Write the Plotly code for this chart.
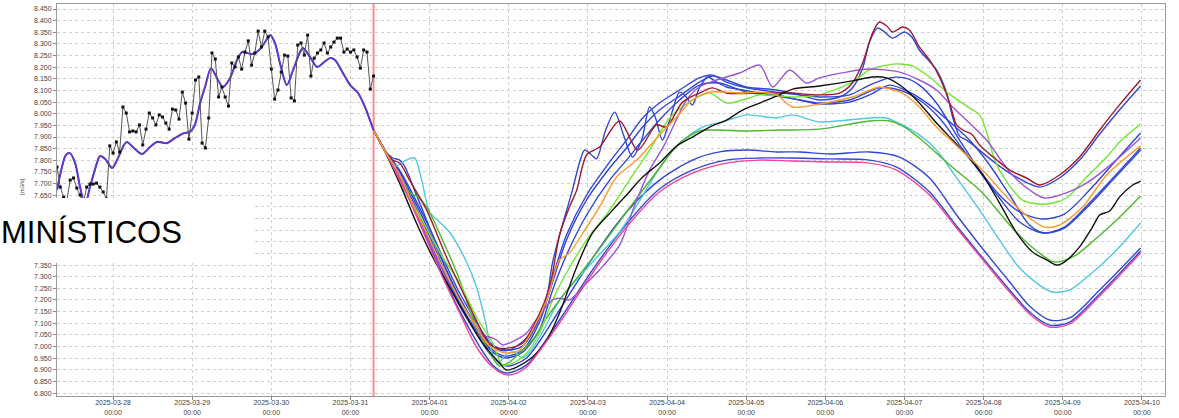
import plotly.graph_objects as go
import pandas as pd

# ---------------- data ----------------
OBS_START = "2025-03-27 07:00"
FC_START = "2025-03-31 07:00"

obs_v = [7.771, 7.685, 7.642, 7.629, 7.715, 7.724, 7.681, 7.651, 7.617, 7.685, 7.698, 7.698, 7.702, 7.685,
         7.664, 7.634, 7.862, 7.831, 7.879, 7.836, 8.029, 8.003, 7.922, 7.926, 7.922, 7.952, 7.866, 7.934,
         8.003, 7.982, 7.952, 7.995, 7.986, 7.960, 7.934, 8.020, 8.016, 7.977, 8.093, 8.046, 7.891, 8.003,
         8.145, 8.158, 7.874, 7.853, 7.982, 8.261, 8.235, 8.072, 8.115, 8.072, 8.033, 8.218, 8.201, 8.244,
         8.192, 8.265, 8.313, 8.209, 8.261, 8.355, 8.287, 8.355, 8.330, 8.192, 8.063, 8.102, 8.179, 8.252,
         8.248, 8.068, 8.055, 8.295, 8.304, 8.252, 8.338, 8.162, 8.239, 8.261, 8.274, 8.304, 8.261, 8.287,
         8.308, 8.325, 8.325, 8.265, 8.278, 8.265, 8.274, 8.244, 8.196, 8.274, 8.265, 8.106, 8.162]
obs_h = list(range(len(obs_v)))

sim_h = [0, 1.5, 2.7, 3.9, 5.5, 7.0, 8.5, 10.0, 12.1, 13.0, 14.6, 16.7, 18.2, 20.3, 21.2, 23.3, 25.8, 28.2,
         30.3, 33.4, 35.8, 38.5, 40.3, 41.8, 43.4, 44.9, 46.7, 48.5, 50.3, 52.5, 54.6, 56.1, 57.6, 59.4, 61.6,
         63.7, 64.6, 66.1, 67.6, 69.7, 71.6, 73.7, 74.6, 76.7, 78.9, 80.7, 82.8, 84.3, 86.7, 88.9, 91.3, 93.4,
         94.9, 96.0]
sim_v = [7.672, 7.771, 7.823, 7.831, 7.788, 7.685, 7.608, 7.685, 7.788, 7.818, 7.806, 7.767, 7.801, 7.866,
         7.879, 7.853, 7.827, 7.857, 7.879, 7.874, 7.896, 7.917, 7.922, 7.952, 8.046, 8.115, 8.196, 8.154,
         8.115, 8.154, 8.231, 8.265, 8.261, 8.257, 8.278, 8.321, 8.338, 8.304, 8.218, 8.123, 8.188, 8.265,
         8.282, 8.244, 8.201, 8.218, 8.239, 8.231, 8.175, 8.123, 8.089, 8.029, 7.973, 7.930]

pink_h = [0, 3.3, 7.9, 10.9, 16.1, 20.9, 26.1, 31.2, 36.1, 40.3, 43.4, 46.4, 51.2, 56.4, 66.4, 76.7, 86.7, 96.7,
          107.0, 117.1, 127.1, 138.3, 150.4, 158.6, 168.6, 176.8, 183.8, 192.9, 198.9, 205.0, 211.1, 220.2, 232.6]
pink_v = [7.930, 7.844, 7.715, 7.629, 7.458, 7.299, 7.144, 6.998, 6.912, 6.878, 6.886, 6.912, 6.998, 7.101,
          7.316, 7.513, 7.664, 7.745, 7.788, 7.801, 7.797, 7.793, 7.788, 7.758, 7.651, 7.509, 7.389, 7.234,
          7.140, 7.084, 7.097, 7.217, 7.402]

b7_h = [0, 3.3, 7.9, 16.1, 26.1, 36.1, 40.3, 46.4, 56.4, 66.4, 76.7, 86.7, 96.7, 107.0, 117.1, 127.1, 138.3,
        150.4, 158.6, 168.6, 176.8, 183.8, 192.9, 198.9, 205.0, 211.1, 220.2, 232.6]
b7_v = [7.930, 7.849, 7.724, 7.466, 7.153, 6.921, 6.886, 6.921, 7.114, 7.329, 7.526, 7.677, 7.758, 7.801,
        7.810, 7.810, 7.806, 7.801, 7.771, 7.664, 7.518, 7.397, 7.243, 7.148, 7.092, 7.105, 7.226, 7.410]

b6_h = [0, 3.3, 7.9, 16.1, 26.1, 36.1, 40.3, 46.4, 56.4, 66.4, 76.7, 86.7, 96.7, 104.9, 113.1, 122.2, 129.2,
        138.3, 150.4, 159.5, 168.6, 176.8, 183.8, 192.9, 198.9, 205.0, 211.1, 220.2, 232.6]
b6_v = [7.930, 7.844, 7.724, 7.483, 7.178, 6.955, 6.916, 6.951, 7.157, 7.380, 7.578, 7.715, 7.801, 7.836,
        7.844, 7.836, 7.836, 7.827, 7.836, 7.814, 7.724, 7.565, 7.436, 7.277, 7.174, 7.114, 7.123, 7.243, 7.423]

cyan_h = [0, 3.3, 6.7, 9.4, 12.4, 14.6, 17.0, 20.0, 23.0, 28.2, 31.2, 33.7, 36.1, 37.6, 40.3, 42.8, 45.2, 47.9,
          51.9, 56.4, 66.4, 74.6, 81.6, 86.7, 92.8, 99.8, 105.8, 113.1, 122.2, 127.1, 135.2, 150.4, 155.5,
          160.4, 165.5, 170.7, 176.2, 183.8, 189.8, 195.9, 201.9, 205.9, 211.1, 217.1, 224.7, 232.6]
cyan_v = [7.930, 7.849, 7.775, 7.797, 7.810, 7.715, 7.578, 7.535, 7.492, 7.363, 7.256, 7.122, 6.964, 6.925,
          6.968, 6.976, 6.951, 6.985, 7.080, 7.200, 7.363, 7.492, 7.647, 7.767, 7.874, 7.943, 7.965, 7.995,
          7.982, 7.995, 7.965, 7.982, 7.982, 7.952, 7.909, 7.844, 7.737, 7.586, 7.458, 7.337, 7.264, 7.234,
          7.243, 7.307, 7.406, 7.531]

green_h = [0, 3.3, 7.9, 10.9, 13.0, 16.1, 20.9, 26.1, 29.1, 32.1, 36.1, 38.2, 41.2, 44.3, 48.2, 52.5, 56.4,
           66.4, 76.7, 86.7, 92.8, 98.8, 102.8, 113.1, 123.1, 135.2, 150.4, 156.5, 161.0, 165.5, 174.7, 184.4,
           192.9, 198.9, 206.5, 212.6, 218.6, 224.7, 232.6]
green_v = [7.930, 7.844, 7.724, 7.660, 7.647, 7.599, 7.458, 7.286, 7.157, 7.058, 6.951, 6.916, 6.933, 6.972,
           7.028, 7.123, 7.200, 7.380, 7.578, 7.767, 7.874, 7.926, 7.930, 7.926, 7.930, 7.934, 7.969, 7.969,
           7.943, 7.896, 7.780, 7.664, 7.522, 7.436, 7.363, 7.389, 7.458, 7.535, 7.647]

black_h = [0, 3.3, 5.8, 8.8, 13.0, 17.9, 23.0, 28.2, 33.1, 38.2, 40.3, 43.4, 48.2, 52.5, 56.4, 61.6, 66.4, 72.5,
           76.7, 81.6, 86.7, 91.9, 96.7, 101.9, 107.0, 111.9, 117.1, 122.2, 127.1, 135.2, 145.2, 151.3, 155.5,
           160.4, 165.5, 170.7, 175.6, 179.8, 184.4, 189.8, 195.0, 199.8, 204.1, 207.1, 209.5, 214.1, 218.0,
           220.2, 223.2, 226.2, 230.2, 232.6]
black_v = [7.930, 7.844, 7.767, 7.672, 7.531, 7.385, 7.256, 7.127, 7.015, 6.929, 6.899, 6.912, 6.955, 7.028,
           7.144, 7.342, 7.488, 7.586, 7.651, 7.728, 7.788, 7.861, 7.900, 7.943, 7.973, 8.016, 8.046, 8.076,
           8.106, 8.119, 8.141, 8.158, 8.154, 8.115, 8.046, 7.960, 7.887, 7.823, 7.745, 7.617, 7.488, 7.406,
           7.372, 7.350, 7.363, 7.428, 7.513, 7.565, 7.582, 7.642, 7.694, 7.711]

orange_h = [0, 3.3, 7.9, 10.9, 16.1, 20.9, 26.1, 31.2, 34.3, 36.1, 40.3, 44.3, 48.2, 52.5, 56.4, 59.4, 64.6,
            68.5, 73.7, 79.8, 86.7, 91.9, 96.7, 101.9, 107.0, 111.9, 117.1, 122.2, 127.1, 135.2, 145.2, 153.4,
            157.4, 160.4, 165.5, 170.7, 175.6, 179.8, 184.7, 192.9, 199.8, 203.5, 208.0, 215.0, 222.3, 232.6]
orange_v = [7.930, 7.844, 7.737, 7.642, 7.488, 7.342, 7.200, 7.084, 7.015, 6.994, 6.972, 6.985, 7.071, 7.200,
            7.372, 7.402, 7.513, 7.599, 7.728, 7.801, 7.909, 7.986, 8.059, 8.093, 8.093, 8.089, 8.093, 8.081,
            8.029, 8.042, 8.072, 8.115, 8.102, 8.089, 8.029, 7.943, 7.879, 7.823, 7.758, 7.629, 7.543, 7.513,
            7.522, 7.599, 7.737, 7.862]

lime_h = [0, 3.3, 8.8, 13.9, 20.9, 26.1, 31.2, 36.1, 39.1, 42.2, 46.4, 50.3, 54.3, 58.5, 64.6, 71.6, 77.6,
          83.7, 89.8, 96.7, 101.9, 107.0, 111.9, 117.1, 127.1, 135.2, 145.2, 150.4, 155.6, 159.5, 163.5, 168.6,
          173.8, 180.7, 183.8, 185.9, 187.7, 189.8, 196.8, 204.1, 210.1, 216.2, 222.3, 226.8, 232.6]
lime_v = [7.930, 7.844, 7.685, 7.565, 7.385, 7.273, 7.127, 7.015, 6.921, 6.929, 6.972, 7.058, 7.200, 7.316,
          7.458, 7.586, 7.715, 7.844, 7.982, 8.059, 8.089, 8.046, 8.059, 8.081, 8.072, 8.081, 8.136, 8.188,
          8.209, 8.214, 8.205, 8.158, 8.093, 8.025, 7.995, 7.922, 7.831, 7.758, 7.629, 7.612, 7.638, 7.728,
          7.814, 7.887, 7.956]

purple_h = [0, 3.3, 7.9, 16.1, 26.1, 32.1, 35.2, 37.3, 39.1, 41.2, 44.3, 46.4, 50.3, 54.3, 56.4, 59.4, 64.0,
            68.5, 74.6, 79.2, 83.7, 88.2, 94.9, 98.8, 104.0, 111.0, 117.1, 121.0, 126.2, 131.3, 135.2, 143.4,
            150.4, 159.5, 165.5, 170.7, 175.6, 180.7, 185.9, 189.8, 193.7, 199.8, 203.5, 210.1, 216.2, 224.1,
            232.6]
purple_v = [7.930, 7.844, 7.724, 7.475, 7.174, 7.049, 7.041, 7.028, 7.007, 7.015, 7.037, 7.058, 7.135, 7.200,
            7.208, 7.200, 7.264, 7.329, 7.436, 7.608, 7.758, 7.866, 8.059, 8.115, 8.145, 8.175, 8.209, 8.115,
            8.188, 8.132, 8.154, 8.179, 8.192, 8.179, 8.145, 8.102, 8.029, 7.960, 7.887, 7.810, 7.737, 7.664,
            7.638, 7.660, 7.702, 7.788, 7.896]

red_h = [0, 3.3, 5.8, 7.9, 10.9, 16.1, 22.1, 28.2, 33.1, 36.1, 41.2, 45.2, 49.4, 53.4, 56.4, 59.4, 61.6, 64.6,
         68.5, 74.6, 80.1, 85.8, 88.8, 93.7, 98.8, 102.8, 107.0, 117.1, 126.2, 135.2, 141.3, 145.2, 148.3,
         151.3, 153.4, 155.6, 157.4, 160.4, 162.5, 165.5, 168.6, 171.6, 174.7, 176.8, 179.2, 181.3, 183.8,
         189.0, 192.9, 198.0, 202.0, 208.0, 214.1, 220.2, 226.2, 232.6]
red_v = [7.930, 7.844, 7.801, 7.788, 7.715, 7.586, 7.385, 7.200, 7.058, 6.998, 6.994, 7.015, 7.114, 7.256,
         7.479, 7.599, 7.672, 7.823, 7.857, 7.969, 7.844, 7.952, 7.943, 8.050, 8.089, 8.111, 8.089, 8.089,
         8.089, 8.081, 8.089, 8.132, 8.218, 8.347, 8.394, 8.377, 8.351, 8.373, 8.360, 8.287, 8.231, 8.158,
         8.046, 7.952, 7.926, 7.913, 7.866, 7.801, 7.758, 7.724, 7.694, 7.737, 7.814, 7.930, 8.038, 8.145]

b1_h = [0, 3.3, 7.9, 16.1, 26.1, 36.1, 40.3, 45.2, 50.3, 54.3, 58.5, 64.6, 71.6, 76.7, 81.6, 86.7, 92.8, 98.8,
        102.8, 107.0, 113.1, 122.2, 129.2, 135.2, 141.3, 145.2, 148.3, 150.4, 152.8, 155.0, 157.4, 161.0,
        163.2, 165.5, 170.7, 173.8, 175.6, 177.7, 179.8, 182.3, 185.9, 189.8, 194.4, 202.0, 208.0, 214.1,
        220.2, 226.2, 232.6]
b1_v = [7.930, 7.844, 7.750, 7.518, 7.208, 6.985, 6.959, 6.985, 7.105, 7.277, 7.458, 7.630, 7.767, 7.853,
        7.943, 8.016, 8.076, 8.136, 8.162, 8.145, 8.115, 8.102, 8.081, 8.059, 8.072, 8.111, 8.196, 8.308,
        8.368, 8.351, 8.325, 8.351, 8.330, 8.274, 8.188, 8.089, 7.986, 7.904, 7.887, 7.861, 7.818, 7.775,
        7.732, 7.685, 7.724, 7.801, 7.913, 8.016, 8.119]

b2_h = [0, 3.3, 5.8, 7.9, 9.4, 12.4, 16.1, 22.1, 28.2, 34.3, 38.2, 41.2, 45.8, 48.8, 52.5, 54.3, 56.4, 60.3,
        62.5, 64.0, 66.1, 67.6, 70.4, 73.1, 75.8, 78.5, 81.3, 83.7, 85.5, 87.6, 89.8, 92.8, 94.6, 96.7, 98.8,
        101.3, 104.0, 107.0, 111.9, 117.1, 122.2, 129.2, 135.2, 144.3, 150.4, 156.5, 162.5, 168.6, 174.7,
        180.7, 186.8, 192.9, 198.9, 203.5, 209.5, 217.1, 224.7, 232.6]
b2_v = [7.930, 7.844, 7.810, 7.801, 7.775, 7.672, 7.543, 7.329, 7.157, 7.028, 6.985, 6.985, 7.028, 7.080,
        7.213, 7.363, 7.479, 7.672, 7.793, 7.844, 7.823, 7.806, 7.930, 8.007, 7.909, 7.814, 7.887, 8.029,
        7.982, 7.887, 7.973, 8.093, 8.076, 8.038, 8.111, 8.158, 8.136, 8.115, 8.102, 8.089, 8.081, 8.059,
        8.042, 8.050, 8.081, 8.123, 8.093, 8.038, 7.965, 7.887, 7.780, 7.651, 7.522, 7.488, 7.509, 7.608,
        7.724, 7.844]

b3_h = [0, 3.3, 7.9, 16.1, 26.1, 36.1, 40.3, 45.2, 50.3, 54.3, 58.5, 64.6, 71.6, 76.7, 81.6, 86.7, 92.8, 98.8,
        102.8, 107.0, 113.1, 122.2, 129.2, 135.2, 144.3, 150.4, 156.5, 161.0, 165.5, 170.7, 177.7, 183.8,
        189.8, 195.9, 202.9, 209.5, 217.1, 224.7, 232.6]
b3_v = [7.930, 7.844, 7.758, 7.535, 7.230, 7.007, 6.985, 7.002, 7.123, 7.299, 7.479, 7.651, 7.793, 7.887,
        7.982, 8.046, 8.102, 8.154, 8.166, 8.136, 8.111, 8.093, 8.081, 8.072, 8.081, 8.123, 8.154, 8.154,
        8.123, 8.046, 7.887, 7.758, 7.651, 7.578, 7.548, 7.569, 7.672, 7.793, 7.917]

b4_h = [0, 3.3, 7.9, 16.1, 26.1, 36.1, 40.3, 45.2, 50.3, 54.3, 58.5, 64.6, 71.6, 76.7, 81.6, 86.7, 92.8, 98.8,
        104.9, 113.1, 122.2, 129.2, 135.2, 144.3, 153.4, 159.5, 165.5, 171.6, 177.7, 183.8, 189.8, 195.9,
        202.9, 209.5, 217.1, 224.7, 232.6]
b4_v = [7.930, 7.844, 7.737, 7.501, 7.187, 6.976, 6.951, 6.976, 7.071, 7.243, 7.393, 7.565, 7.715, 7.801,
        7.887, 7.973, 8.059, 8.123, 8.132, 8.093, 8.076, 8.059, 8.046, 8.059, 8.111, 8.102, 8.059, 7.982,
        7.866, 7.750, 7.638, 7.535, 7.488, 7.513, 7.617, 7.732, 7.853]

# y tick values (labels hidden behind the white box are left blank)
y_ticks = [round(6.80 + 0.05 * i, 2) for i in range(34)]
y_hidden = [7.40, 7.45, 7.50, 7.55, 7.60]
y_text = ["" if t in y_hidden else f"{t:.3f}" for t in y_ticks]

# ---------------- styling ----------------
BLUE = "#3346d1"
members = [
    (b6_h, b6_v, BLUE), (b4_h, b4_v, BLUE), (b3_h, b3_v, BLUE), (b2_h, b2_v, BLUE), (b1_h, b1_v, BLUE),
    (b7_h, b7_v, BLUE), (cyan_h, cyan_v, "#4fc8e0"), (green_h, green_v, "#4cb82e"),
    (lime_h, lime_v, "#72e632"), (purple_h, purple_v, "#9a55d8"), (red_h, red_v, "#9e1a2e"),
    (black_h, black_v, "#111111"), (pink_h, pink_v, "#f0439a"), (orange_h, orange_v, "#ff9a2a"),
]


def times(base, hours):
    b = pd.Timestamp(base)
    return [b + pd.Timedelta(hours=h) for h in hours]


fig = go.Figure()

for h, v, c in members:
    fig.add_trace(go.Scatter(x=times(FC_START, h), y=v, mode="lines",
                             line=dict(color=c, width=1.4, shape="spline", smoothing=0.8),
                             hoverinfo="skip", showlegend=False))

fig.add_trace(go.Scatter(x=times(OBS_START, sim_h), y=sim_v, mode="lines",
                         line=dict(color="#2a3ad8", width=2.0, shape="spline", smoothing=0.8),
                         hoverinfo="skip", showlegend=False))
fig.add_trace(go.Scatter(x=times(OBS_START, sim_h), y=sim_v, mode="lines",
                         line=dict(color="#7a35c0", width=1.3, shape="spline", smoothing=0.8),
                         hoverinfo="skip", showlegend=False))
fig.add_trace(go.Scatter(x=times(OBS_START, obs_h), y=obs_v, mode="lines+markers",
                         line=dict(color="#555555", width=1),
                         marker=dict(color="#111111", size=3, symbol="square"),
                         hoverinfo="skip", showlegend=False))

W, H = 1179, 418
ML, MR, MT, MB = 57, 14, 4, 22
pw, ph = W - ML - MR, H - MT - MB

fig.add_shape(type="line", xref="x", yref="paper", x0=pd.Timestamp(FC_START), x1=pd.Timestamp(FC_START),
              y0=0, y1=1, line=dict(color="#ff8a8a", width=2), layer="below")


def px_x(p):
    return (p - ML) / pw


def px_y(p):
    return (H - MB - p) / ph


# white masking box with partially visible label
fig.add_shape(type="rect", xref="paper", yref="paper", x0=px_x(-2), x1=px_x(253), y0=px_y(263), y1=px_y(198),
              fillcolor="white", line=dict(width=0), layer="above")
fig.add_annotation(text="MINÍSTICOS", xref="paper", yref="paper", x=px_x(-1), y=px_y(233),
                   xanchor="left", yanchor="middle", showarrow=False,
                   font=dict(family="Liberation Sans, Arial", size=31, color="#000000"))
fig.add_annotation(text="[m3/s]", xref="paper", yref="paper", x=px_x(22), y=px_y(187), textangle=-90,
                   xanchor="center", yanchor="middle", showarrow=False,
                   font=dict(family="Liberation Sans, Arial", size=6, color="#444444"))

fig.update_layout(
    width=W, height=H, margin=dict(l=ML, r=MR, t=MT, b=MB, autoexpand=False),
    paper_bgcolor="white", plot_bgcolor="white",
    font=dict(family="Liberation Sans, Arial", size=7, color="#444444"),
    xaxis=dict(range=["2025-03-27 07:00", "2025-04-10 07:00"], type="date", automargin=False,
               tick0="2025-03-28", dtick=86400000, tickformat="%Y-%m-%d<br>%H:%M",
               showgrid=True, gridcolor="#cfcfcf", griddash="dot", gridwidth=1,
               showline=True, linecolor="#9a9a9a", linewidth=1, mirror=True,
               ticks="outside", ticklen=3, tickcolor="#888888", zeroline=False,
               tickfont=dict(size=7, color="#444444"), ticklabelstandoff=-3),
    yaxis=dict(range=[6.7875, 8.4715], tickmode="array", tickvals=y_ticks, ticktext=y_text, automargin=False,
               showgrid=True, gridcolor="#cfcfcf", griddash="dot", gridwidth=1,
               showline=True, linecolor="#9a9a9a", linewidth=1, mirror=True,
               ticks="outside", ticklen=3, tickcolor="#888888", zeroline=False,
               tickfont=dict(size=7, color="#444444")),
)

fig.write_html("out.html", config={"displayModeBar": False},
               post_script="document.body.style.margin='0';document.body.style.padding='0';"
                           "document.documentElement.style.overflow='hidden';")
